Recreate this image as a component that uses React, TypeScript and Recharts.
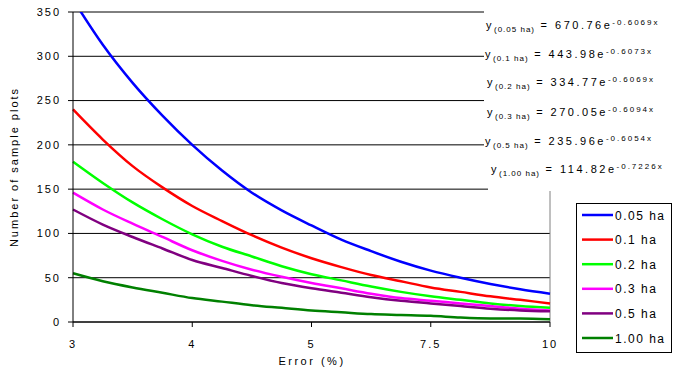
import { LineChart, Line, XAxis, YAxis, CartesianGrid, ReferenceLine } from "recharts";

// x positions are category slots 1..5, shown as the error values below
const xIndex = [1, 1.25, 1.5, 1.75, 2, 2.25, 2.5, 2.75, 3, 3.25, 3.5, 3.75, 4, 4.25, 4.5, 4.75, 5];
const xTickSlots = [1, 2, 3, 4, 5];
const xTickLabels = ["3", "4", "5", "7.5", "10"];
const yTicks = [0, 50, 100, 150, 200, 250, 300, 350];

const seriesNames = ["0.05 ha", "0.1 ha", "0.2 ha", "0.3 ha", "0.5 ha", "1.00 ha"];
const seriesColors = ["#0000ff", "#ff0000", "#00ff00", "#ff00ff", "#800080", "#008000"];

const plots005 = [364, 313, 270, 233, 200, 171, 146, 126, 109, 93, 80, 68, 58, 50, 43, 37, 32];
const plots01 = [240, 206, 176, 152, 131, 114, 98, 84, 72, 62, 53, 46, 39, 34, 29, 25, 21];
const plots02 = [181, 157, 135, 116, 99, 85, 74, 63, 54, 47, 40, 34, 29, 25, 21, 18, 16];
const plots03 = [146, 127, 111, 96, 81, 69, 59, 51, 44, 38, 32, 27, 24, 21, 18, 15, 13];
const plots05 = [127, 110, 96, 83, 70, 61, 52, 44, 38, 33, 28, 24, 21, 18, 15, 13, 12];
const plots100 = [55, 46, 39, 33, 27, 23, 19, 16, 13, 11, 9, 8, 7, 5, 4, 4, 3];

const eqSubs = ["(0.05 ha)", "(0.1 ha)", "(0.2 ha)", "(0.3 ha)", "(0.5 ha)", "(1.00 ha)"];
const eqCoefs = ["670.76", "443.98", "334.77", "270.05", "235.96", "114.82"];
const eqExps = ["-0.6069x", "-0.6073x", "-0.6069x", "-0.6094x", "-0.6054x", "-0.7226x"];

const allSeries = [plots005, plots01, plots02, plots03, plots05, plots100];
const data = xIndex.map((x, i) => {
  const row: Record<string, number> = { x };
  allSeries.forEach((s, k) => {
    row["s" + k] = s[i];
  });
  return row;
});

const font = "'Liberation Sans', Arial, sans-serif";
const tickStyle = { fill: "#000", fontSize: 11, fontFamily: font, letterSpacing: 2 };

const eqX = [486, 485, 487, 487, 485, 491];
const eqY = [28.5, 57.5, 85.5, 116, 144.5, 172.5];

export default function App() {
  return (
    <div style={{ position: "absolute", left: 0, top: 0, width: 677, height: 375, background: "#fff" }}>
      <LineChart width={677} height={375} data={data} margin={{ top: 12, right: 127, bottom: 0, left: 0 }}>
        <CartesianGrid horizontal vertical={false} stroke="#000" strokeWidth={1} />
        <XAxis
          dataKey="x"
          type="number"
          domain={[1, 5]}
          ticks={xTickSlots}
          tickFormatter={(v) => xTickLabels[xTickSlots.indexOf(v)]}
          height={53}
          tick={tickStyle}
          tickSize={5}
          tickMargin={13}
          stroke="#000"
          tickLine={{ stroke: "#000" }}
        />
        <YAxis
          domain={[0, 350]}
          ticks={yTicks}
          allowDataOverflow
          width={73}
          tick={tickStyle}
          tickSize={5}
          tickMargin={7}
          stroke="#000"
          tickLine={{ stroke: "#000" }}
        />
        <ReferenceLine y={350} stroke="#808080" strokeWidth={1} />
        <ReferenceLine x={5} stroke="#808080" strokeWidth={1} />
        {seriesNames.map((name, k) => (
          <Line
            key={name}
            name={name}
            dataKey={"s" + k}
            type="monotone"
            stroke={seriesColors[k]}
            strokeWidth={2.5}
            dot={false}
            isAnimationActive={false}
          />
        ))}
      </LineChart>
      <svg
        width={677}
        height={375}
        style={{ position: "absolute", left: 0, top: 0, pointerEvents: "none" }}
        fontFamily={font}
      >
        <rect x={484} y={0} width={193} height={187} fill="#fff" />
        <rect x={488} y={186} width={189} height={5} fill="#fff" />
        {eqCoefs.map((c, k) => (
          <text key={c} x={eqX[k]} y={eqY[k]} fontSize={11} letterSpacing={2.5} fill="#000">
            y
            <tspan fontSize={8} letterSpacing={1} dy={3}>
              {eqSubs[k]}
            </tspan>
            <tspan dy={-3}>{" = " + c + "e"}</tspan>
            <tspan fontSize={8} letterSpacing={2} dy={-4}>
              {eqExps[k]}
            </tspan>
          </text>
        ))}
        <text
          x={0}
          y={0}
          transform="translate(18,167) rotate(-90)"
          textAnchor="middle"
          fontSize={11}
          letterSpacing={2}
          fill="#000"
        >
          Number of sample plots
        </text>
        <text x={312} y={365} textAnchor="middle" fontSize={11} letterSpacing={2.5} fill="#000">
          Error (%)
        </text>
        <rect x={576.5} y={203.5} width={95} height={149} fill="#fff" stroke="#000" strokeWidth={1} />
        {seriesNames.map((name, k) => (
          <g key={name}>
            <line
              x1={582}
              x2={613}
              y1={215 + k * 24.6}
              y2={215 + k * 24.6}
              stroke={seriesColors[k]}
              strokeWidth={2.5}
            />
            <text x={615} y={219.5 + k * 24.6} fontSize={12} letterSpacing={1.5} fill="#000">
              {name}
            </text>
          </g>
        ))}
      </svg>
    </div>
  );
}
